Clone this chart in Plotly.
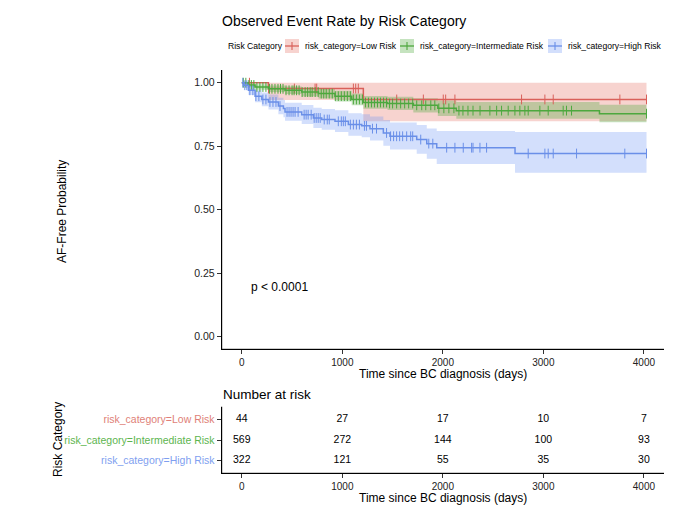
import numpy as np
import plotly.graph_objects as go

# Kaplan-Meier steps (time in days, survival, CI low, CI high)
low_t = [0, 265, 1209, 4026]
low_s = [1.0, 0.977, 0.934, 0.934]
low_lo = [1.0, 0.932, 0.848, 0.848]
low_hi = [1.0, 1.0, 1.0, 1.0]
low_cens = [76, 265, 523, 729, 745, 1110, 1133, 1159, 1541, 1806, 2004, 2028,
            2120, 2783, 3015, 3098, 3761, 4026]

int_t = [0, 60, 132, 265, 430, 596, 762, 927, 1093, 1209, 1450, 1706, 1950,
         2134, 3558, 4026]
int_s = [1.0, 0.991, 0.983, 0.976, 0.970, 0.963, 0.957, 0.947, 0.934, 0.922,
         0.918, 0.911, 0.899, 0.890, 0.878, 0.878]
int_lo = [1.0, 0.983, 0.972, 0.963, 0.955, 0.946, 0.938, 0.926, 0.911, 0.897,
          0.892, 0.883, 0.869, 0.858, 0.844, 0.844]
int_hi = [1.0, 0.999, 0.994, 0.989, 0.985, 0.980, 0.976, 0.968, 0.957, 0.948,
          0.945, 0.939, 0.930, 0.924, 0.913, 0.913]
int_cens = [15, 40, 70, 95, 120, 150, 180, 210, 240, 275, 300, 330, 360, 385,
            410, 440, 470, 500, 520, 545, 570, 600, 630, 655, 680, 700, 730,
            760, 790, 815, 840, 870, 900, 930, 960, 990, 1020, 1050, 1080, 1110,
            1140, 1170, 1200, 1230, 1260, 1290, 1320, 1350, 1380, 1410, 1440,
            1470, 1500, 1540, 1580, 1620, 1660, 1700, 1740, 1790, 1830, 1880,
            1920, 1960, 2010, 2060, 2110, 2160, 2200, 2250, 2300, 2370, 2468,
            2535, 2584, 2650, 2717, 2766, 2816, 2849, 2965, 3048, 3197, 3230,
            3280, 4026]

high_t = [0, 20, 66, 132, 199, 265, 364, 414, 430, 596, 712, 795, 927, 1060,
          1193, 1275, 1408, 1474, 1740, 1840, 1939, 2718, 4026]
high_s = [1.0, 0.990, 0.970, 0.947, 0.934, 0.924, 0.908, 0.898, 0.885, 0.874,
          0.861, 0.855, 0.848, 0.835, 0.830, 0.819, 0.802, 0.789, 0.776, 0.760,
          0.744, 0.721, 0.721]
high_lo = [1.0, 0.979, 0.952, 0.923, 0.907, 0.894, 0.876, 0.864, 0.850, 0.837,
           0.822, 0.815, 0.806, 0.791, 0.785, 0.772, 0.752, 0.737, 0.720, 0.700,
           0.680, 0.645, 0.645]
high_hi = [1.0, 1.0, 0.989, 0.971, 0.961, 0.954, 0.941, 0.932, 0.921, 0.912,
           0.901, 0.896, 0.891, 0.880, 0.876, 0.867, 0.853, 0.843, 0.833, 0.820,
           0.810, 0.806, 0.806]
high_cens = [10, 30, 50, 80, 110, 140, 170, 210, 240, 280, 310, 340, 380, 450,
             470, 490, 510, 530, 560, 620, 640, 660, 690, 720, 740, 760, 780,
             820, 850, 870, 960, 990, 1010, 1030, 1080, 1110, 1140, 1170, 1220,
             1240, 1300, 1340, 1440, 1480, 1510, 1540, 1570, 1600, 1640, 1680,
             1700, 1780, 1860, 1900, 2038, 2120, 2203, 2286, 2300, 2369, 2435,
             2849, 3015, 3048, 3098, 3330, 3810, 4026]

# number at risk table
risk_times = [0, 1000, 2000, 3000, 4000]
groups = ["risk_category=Low Risk", "risk_category=Intermediate Risk",
          "risk_category=High Risk"]
n_low = [44, 27, 17, 10, 7]
n_int = [569, 272, 144, 100, 93]
n_high = [322, 121, 55, 35, 30]

line_colors = ["#D9605A", "#4DA83E", "#6A8FE8"]
fill_colors = ["rgba(230,120,110,0.33)", "rgba(80,170,60,0.33)",
               "rgba(110,150,245,0.30)"]
label_colors = ["#E07F78", "#5DB54F", "#7F9FF0"]

FONT = "Liberation Sans, Arial, sans-serif"
W, H = 680, 517
OFF = 8  # page body margin


def px(x):
    return (x - OFF) / W


def py(y):
    return 1 - (y - OFF) / H


fig = go.Figure()

series = [
    (low_t, low_s, low_lo, low_hi, low_cens),
    (int_t, int_s, int_lo, int_hi, int_cens),
    (high_t, high_s, high_lo, high_hi, high_cens),
]

# confidence bands
for i, (t, s, lo, hi, cens) in enumerate(series):
    fig.add_trace(go.Scatter(x=t, y=hi, mode="lines", line=dict(width=0, shape="hv"),
                             showlegend=False, hoverinfo="skip"))
    fig.add_trace(go.Scatter(x=t, y=lo, mode="lines", line=dict(width=0, shape="hv"),
                             fill="tonexty", fillcolor=fill_colors[i],
                             showlegend=False, hoverinfo="skip"))

# survival curves and censor marks
for i, (t, s, lo, hi, cens) in enumerate(series):
    fig.add_trace(go.Scatter(x=t, y=s, mode="lines",
                             line=dict(color=line_colors[i], width=1.5, shape="hv"),
                             showlegend=False))
    idx = np.searchsorted(t, cens, side="right") - 1
    cy = np.array(s)[idx]
    fig.add_trace(go.Scatter(x=cens, y=cy, mode="markers",
                             marker=dict(symbol="line-ns", size=7,
                                         line=dict(color=line_colors[i], width=1)),
                             showlegend=False))

# risk table numbers
for i, nums in enumerate([n_low, n_int, n_high]):
    fig.add_trace(go.Scatter(x=risk_times, y=[i + 1] * len(risk_times), mode="text",
                             text=[str(v) for v in nums],
                             textfont=dict(size=10.5, color="black", family=FONT),
                             xaxis="x2", yaxis="y2", showlegend=False,
                             hoverinfo="skip"))

axis_common = dict(showline=True, linecolor="black", linewidth=1, mirror=False,
                   ticks="outside", ticklen=4, tickcolor="#333", tickwidth=1,
                   showgrid=False, zeroline=False,
                   tickfont=dict(size=10, color="#222", family=FONT))

xdom = [px(221.7), px(664)]
ydom_main = [py(349.3), py(70)]
ydom_tab = [py(473.3), py(406.7)]

fig.update_layout(
    width=W, height=H,
    margin=dict(l=0, r=0, t=0, b=0, autoexpand=False),
    paper_bgcolor="white", plot_bgcolor="white",
    font=dict(family=FONT, color="black"),
    showlegend=False,
    title=dict(text="Observed Event Rate by Risk Category", x=px(222), xanchor="left",
               y=py(21), yanchor="middle", font=dict(size=14, color="black")),
    xaxis=dict(domain=xdom, range=[-200, 4200], tickvals=risk_times, anchor="y",
               **axis_common),
    yaxis=dict(domain=ydom_main, range=[-0.05, 1.05],
               tickvals=[0, 0.25, 0.5, 0.75, 1.0], tickformat=".2f", anchor="x",
               **axis_common),
    xaxis2=dict(domain=xdom, range=[-200, 4200], tickvals=risk_times, anchor="y2",
                **axis_common),
    yaxis2=dict(domain=ydom_tab, range=[3.6, 0.4], tickvals=[1, 2, 3],
                ticktext=[f"<span style='color:{c}'>{g}</span>"
                          for g, c in zip(groups, label_colors)],
                anchor="x2", **axis_common),
)
fig.update_yaxes(tickfont=dict(size=10.5))

# axis lines (left and bottom) of both panels
for yd in (ydom_main, ydom_tab):
    fig.add_shape(type="line", xref="paper", yref="paper", x0=xdom[0], x1=xdom[0],
                  y0=yd[0], y1=yd[1], line=dict(color="black", width=1))
    fig.add_shape(type="line", xref="paper", yref="paper", x0=xdom[0], x1=xdom[1],
                  y0=yd[0], y1=yd[0], line=dict(color="black", width=1))

annotations = [
    dict(text="AF-Free Probability", x=px(62), y=py(212), textangle=-90,
         font=dict(size=12)),
    dict(text="Time since BC diagnosis (days)", x=px(443), y=py(373.5),
         font=dict(size=12)),
    dict(text="Number at risk", x=px(221), y=py(394), xanchor="left",
         font=dict(size=13.5)),
    dict(text="Risk Category", x=px(58), y=py(440), textangle=-90,
         font=dict(size=12)),
    dict(text="Time since BC diagnosis (days)", x=px(443), y=py(498),
         font=dict(size=12)),
    dict(text="Risk Category", x=px(226), y=py(46), xanchor="left",
         font=dict(size=8.6)),
]

# legend keys (box with line and censor tick) and labels
key_left = [285, 400, 548]
for i, g in enumerate(groups):
    x0 = key_left[i]
    fig.add_shape(type="rect", xref="paper", yref="paper",
                  x0=px(x0), x1=px(x0 + 14), y0=py(53), y1=py(39),
                  fillcolor=fill_colors[i], line=dict(width=0))
    fig.add_shape(type="line", xref="paper", yref="paper",
                  x0=px(x0), x1=px(x0 + 14), y0=py(46), y1=py(46),
                  line=dict(color=line_colors[i], width=1.3))
    fig.add_shape(type="line", xref="paper", yref="paper",
                  x0=px(x0 + 7), x1=px(x0 + 7), y0=py(42), y1=py(50),
                  line=dict(color=line_colors[i], width=1.1))
    annotations.append(dict(text=g, x=px(x0 + 18), y=py(46), xanchor="left",
                            font=dict(size=8.6)))

for a in annotations:
    a.setdefault("xanchor", "center")
    a.update(xref="paper", yref="paper", showarrow=False, yanchor="middle")
    fig.add_annotation(**a)

fig.add_annotation(text="p < 0.0001", x=70, y=0.195, xref="x", yref="y",
                   xanchor="left", yanchor="middle", showarrow=False,
                   font=dict(size=12))

fig.write_html("out.html")
